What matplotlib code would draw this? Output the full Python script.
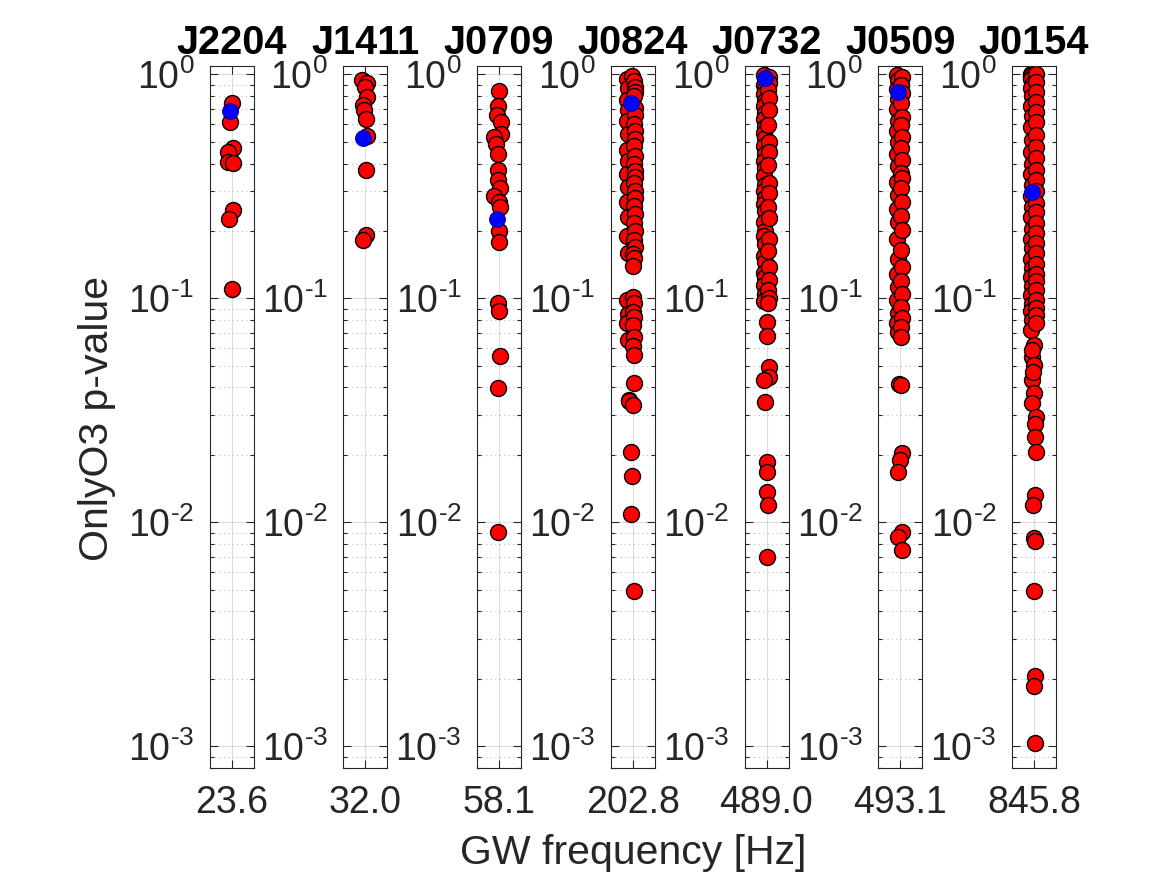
import matplotlib
matplotlib.use("Agg")
import numpy as np
import matplotlib.pyplot as plt
from matplotlib.ticker import LogLocator, NullFormatter, FixedLocator, FuncFormatter

plt.rcParams.update({
    "font.family": ["Liberation Sans", "DejaVu Sans"],
    "mathtext.fontset": "custom",
    "mathtext.rm": "Liberation Sans",
    "axes.unicode_minus": False,
})

# pulsar names and GW frequency of each panel
names = ["J2204", "J1411", "J0709", "J0824", "J0732", "J0509", "J0154"]
freqs = ["23.6", "32.0", "58.1", "202.8", "489.0", "493.1", "845.8"]

# p-values (red) and small horizontal offsets inside each panel (-1..1)
j2204_y = [0.748, 0.616, 0.468, 0.452, 0.408, 0.401, 0.248, 0.226, 0.110]
j2204_x = [0.03, -0.08, 0.08, -0.17, -0.15, 0.08, 0.08, -0.10, 0.02]

j1411_y = [0.945, 0.913, 0.877, 0.796, 0.731, 0.694, 0.631, 0.531, 0.374, 0.192, 0.182]
j1411_x = [-0.14, 0.06, 0.00, 0.06, -0.09, -0.06, 0.02, 0.09, 0.03, 0.02, -0.10]

j0709_y = [0.840, 0.720, 0.656, 0.610, 0.540, 0.527, 0.490, 0.443, 0.374, 0.339, 0.311,
           0.287, 0.269, 0.257, 0.200, 0.178, 0.0954, 0.0877, 0.0554, 0.0399, 0.00908]
j0709_x = [0.00, -0.06, -0.10, 0.07, 0.07, -0.25, -0.13, -0.06, -0.06, -0.06, 0.04,
           -0.25, 0.01, 0.04, 0.00, 0.00, -0.06, 0.00, 0.04, -0.03, -0.03]

j0824_y = [0.95, 0.87, 0.77, 0.69, 0.62, 0.54, 0.46, 0.41, 0.36, 0.315, 0.27, 0.23, 0.19,
           0.16, 0.098, 0.085, 0.078, 0.065, 0.035,
           0.984, 0.931, 0.881, 0.834, 0.804, 0.707, 0.656, 0.599, 0.557, 0.517, 0.481,
           0.434, 0.400, 0.372, 0.348, 0.327, 0.303, 0.282, 0.259, 0.239, 0.218, 0.199,
           0.182, 0.169, 0.157, 0.151, 0.140, 0.101, 0.0954, 0.0871, 0.0824, 0.0760,
           0.0673, 0.0614, 0.0560, 0.0418, 0.0348, 0.0335, 0.0206, 0.0161, 0.0109, 0.00495]
j0824_x = [-0.25, -0.20, -0.25, -0.20, -0.25, -0.20, -0.25, -0.20, -0.25, -0.20, -0.25,
           -0.20, -0.25, -0.20, -0.25, -0.20, -0.25, -0.20, -0.15,
           -0.05, 0.05, 0.08, 0.10, 0.05, 0.08, 0.10, 0.05, 0.08, 0.10, 0.05,
           0.10, 0.05, 0.08, 0.10, 0.05, 0.08, 0.10, 0.05, 0.08, 0.05, 0.10,
           0.05, 0.08, 0.00, 0.05, 0.00, 0.00, 0.05, 0.00, 0.05, 0.00,
           0.05, 0.00, 0.05, 0.05, -0.18, 0.00, -0.07, -0.03, -0.07, 0.05]

j0732_y = [0.99, 0.95, 0.90, 0.86, 0.82, 0.76, 0.72, 0.67, 0.63, 0.58, 0.55, 0.52, 0.48,
           0.44, 0.41, 0.38, 0.35, 0.32, 0.30, 0.28, 0.265, 0.245, 0.22, 0.20, 0.19,
           0.175, 0.155, 0.145, 0.13, 0.125, 0.115, 0.105, 0.097,
           0.978, 0.913, 0.853, 0.783, 0.694, 0.594, 0.501, 0.452, 0.394, 0.327, 0.295,
           0.257, 0.228, 0.185, 0.162, 0.138, 0.121, 0.109, 0.100, 0.095,
           0.0786, 0.0679, 0.0495, 0.0446, 0.0430, 0.0345, 0.0186, 0.0168, 0.0137,
           0.0119, 0.00698]
j0732_x = [-0.12, -0.08, -0.12, -0.08, -0.12, -0.08, -0.12, -0.08, -0.12, -0.08, -0.12,
           -0.08, -0.12, -0.08, -0.12, -0.08, -0.12, -0.08, -0.12, -0.08, -0.12, -0.08,
           -0.12, -0.08, -0.12, -0.08, -0.12, -0.08, -0.12, -0.08, -0.12, -0.08, -0.12,
           0.10, 0.10, 0.08, 0.10, 0.10, 0.08, 0.10, 0.10, 0.08, 0.10, 0.10,
           0.08, 0.10, 0.10, 0.08, 0.10, 0.10, 0.08, 0.10, 0.06,
           0.00, 0.00, 0.10, 0.10, -0.10, -0.05, 0.00, 0.00, 0.03,
           0.07, 0.00]

j0509_y = [0.99, 0.94, 0.86, 0.78, 0.70, 0.62, 0.56, 0.50, 0.44, 0.39, 0.33, 0.29, 0.25,
           0.22, 0.185, 0.15, 0.128, 0.112, 0.098, 0.086, 0.078, 0.071,
           0.978, 0.898, 0.824, 0.743, 0.648, 0.594, 0.527, 0.468, 0.415, 0.362, 0.344,
           0.310, 0.270, 0.232, 0.202, 0.164, 0.138, 0.119, 0.105, 0.0918, 0.0814,
           0.0747, 0.0674,
           0.0415, 0.0410, 0.0203, 0.0190, 0.0168, 0.00906, 0.0086, 0.0075]
j0509_x = [-0.15, -0.12, -0.15, -0.12, -0.15, -0.12, -0.15, -0.12, -0.15, -0.12, -0.15,
           -0.12, -0.15, -0.12, -0.15, -0.12, -0.15, -0.12, -0.15, -0.12, -0.15, -0.12,
           0.07, 0.05, 0.08, 0.05, 0.07, 0.05, 0.08, 0.05, 0.07, 0.05, 0.08,
           0.05, 0.07, 0.05, 0.08, 0.05, 0.07, 0.05, 0.08, 0.05, 0.07,
           0.05, 0.05,
           -0.05, 0.05, 0.08, 0.00, -0.10, 0.08, -0.10, 0.08]

j0154_y = [1.0, 0.99, 0.98, 0.96, 0.95, 0.90, 0.87, 0.80, 0.72, 0.65, 0.58, 0.51, 0.45,
           0.40, 0.36, 0.32, 0.285, 0.255, 0.23, 0.205, 0.185, 0.168, 0.150, 0.136,
           0.124, 0.114, 0.104, 0.094, 0.088, 0.080, 0.072, 0.055, 0.043,
           1.0, 0.929, 0.838, 0.756, 0.682, 0.616, 0.537, 0.476, 0.422, 0.374, 0.338,
           0.300, 0.266, 0.244, 0.216, 0.195, 0.176, 0.159, 0.143, 0.129, 0.119, 0.109,
           0.0983, 0.0902, 0.0842, 0.0773,
           0.0618, 0.0587, 0.0503, 0.0470, 0.0376, 0.0340, 0.0296, 0.0276, 0.0241,
           0.0206, 0.0132, 0.0119, 0.00847, 0.00826, 0.00494, 0.00205, 0.00185, 0.00103]
j0154_x = [-0.15, -0.10, -0.15, -0.10, -0.15, -0.10, -0.15, -0.10, -0.15, -0.10, -0.15,
           -0.10, -0.15, -0.10, -0.15, -0.10, -0.15, -0.10, -0.15, -0.10, -0.15, -0.10,
           -0.15, -0.10, -0.15, -0.10, -0.15, -0.10, -0.15, -0.10, -0.15, -0.10, -0.10,
           0.08, 0.08, 0.08, 0.08, 0.08, 0.08, 0.08, 0.08, 0.08, 0.08, 0.08,
           0.08, 0.08, 0.08, 0.08, 0.08, 0.08, 0.08, 0.08, 0.08, 0.08, 0.08,
           0.08, 0.08, 0.08, 0.08,
           0.00, -0.07, 0.00, -0.03, 0.00, -0.07, 0.07, 0.04, 0.04,
           0.07, 0.04, -0.04, 0.00, 0.03, 0.00, 0.03, 0.00, 0.03]

red_y = [j2204_y, j1411_y, j0709_y, j0824_y, j0732_y, j0509_y, j0154_y]
red_x = [j2204_x, j1411_x, j0709_x, j0824_x, j0732_x, j0509_x, j0154_x]

# highlighted (blue) point of each pulsar
blue_y = [0.687, 0.522, 0.225, 0.747, 0.962, 0.838, 0.299]
blue_x = [-0.08, -0.10, -0.10, -0.10, -0.07, -0.12, -0.07]

ink = "#262626"


def decade_label(v, pos):
    # MATLAB style 10^-1 with a plain hyphen
    e = int(round(np.log10(v)))
    if e < 0:
        return r"$\mathdefault{10^{\text{-}%d}}$" % (-e)
    return r"$\mathdefault{10^{%d}}$" % e


fig = plt.figure(figsize=(11.67, 8.75), dpi=100)

W, H = 1167.0, 875.0
for i, name in enumerate(names):
    left = (209.5 + i * 133.75) / W
    ax = fig.add_axes([left, 1 - 768 / H, 44 / W, 702 / H])
    ax.set_yscale("log")
    ax.set_ylim(8e-4, 1.09)
    ax.set_xlim(-1, 1)
    ax.set_axisbelow(True)

    ax.plot(red_x[i], red_y[i], "o", ms=11.5, mfc="red", mec="black", mew=1.0)
    ax.plot(blue_x[i], blue_y[i], "o", ms=11.5, mfc="blue", mec="#00008b", mew=0.6)

    ax.yaxis.set_major_locator(LogLocator(base=10, numticks=10))
    ax.yaxis.set_major_formatter(FuncFormatter(decade_label))
    ax.yaxis.set_minor_locator(LogLocator(base=10, subs=range(2, 10), numticks=20))
    ax.yaxis.set_minor_formatter(NullFormatter())
    ax.xaxis.set_major_locator(FixedLocator([0]))
    ax.set_xticklabels([freqs[i]])

    ax.grid(True, which="major", color=ink, alpha=0.15, lw=0.8, ls="-")
    ax.grid(True, which="minor", axis="y", color=ink, alpha=0.3, lw=0.8, ls=(0, (1, 3)))

    ax.tick_params(which="both", direction="in", left=True, right=True, top=True,
                   bottom=True, colors=ink, labelsize=27, width=0.8)
    ax.tick_params(which="major", length=6)
    ax.tick_params(which="minor", length=3)
    ax.tick_params(axis="y", which="major", pad=11)
    ax.tick_params(axis="x", which="major", pad=12)
    for sp in ax.spines.values():
        sp.set_color(ink)
        sp.set_linewidth(0.8)

    ax.set_title(name, fontsize=28.6, fontweight="bold", color="black", pad=9)

fig.text(0.543, 0.013, "GW frequency [Hz]", ha="center", va="baseline",
         fontsize=29.5, color=ink)
fig.text(0.083, 0.522, "OnlyO3 p-value", ha="center", va="center", rotation=90,
         fontsize=29.5, color=ink)

fig.savefig("out.png", dpi=100)
